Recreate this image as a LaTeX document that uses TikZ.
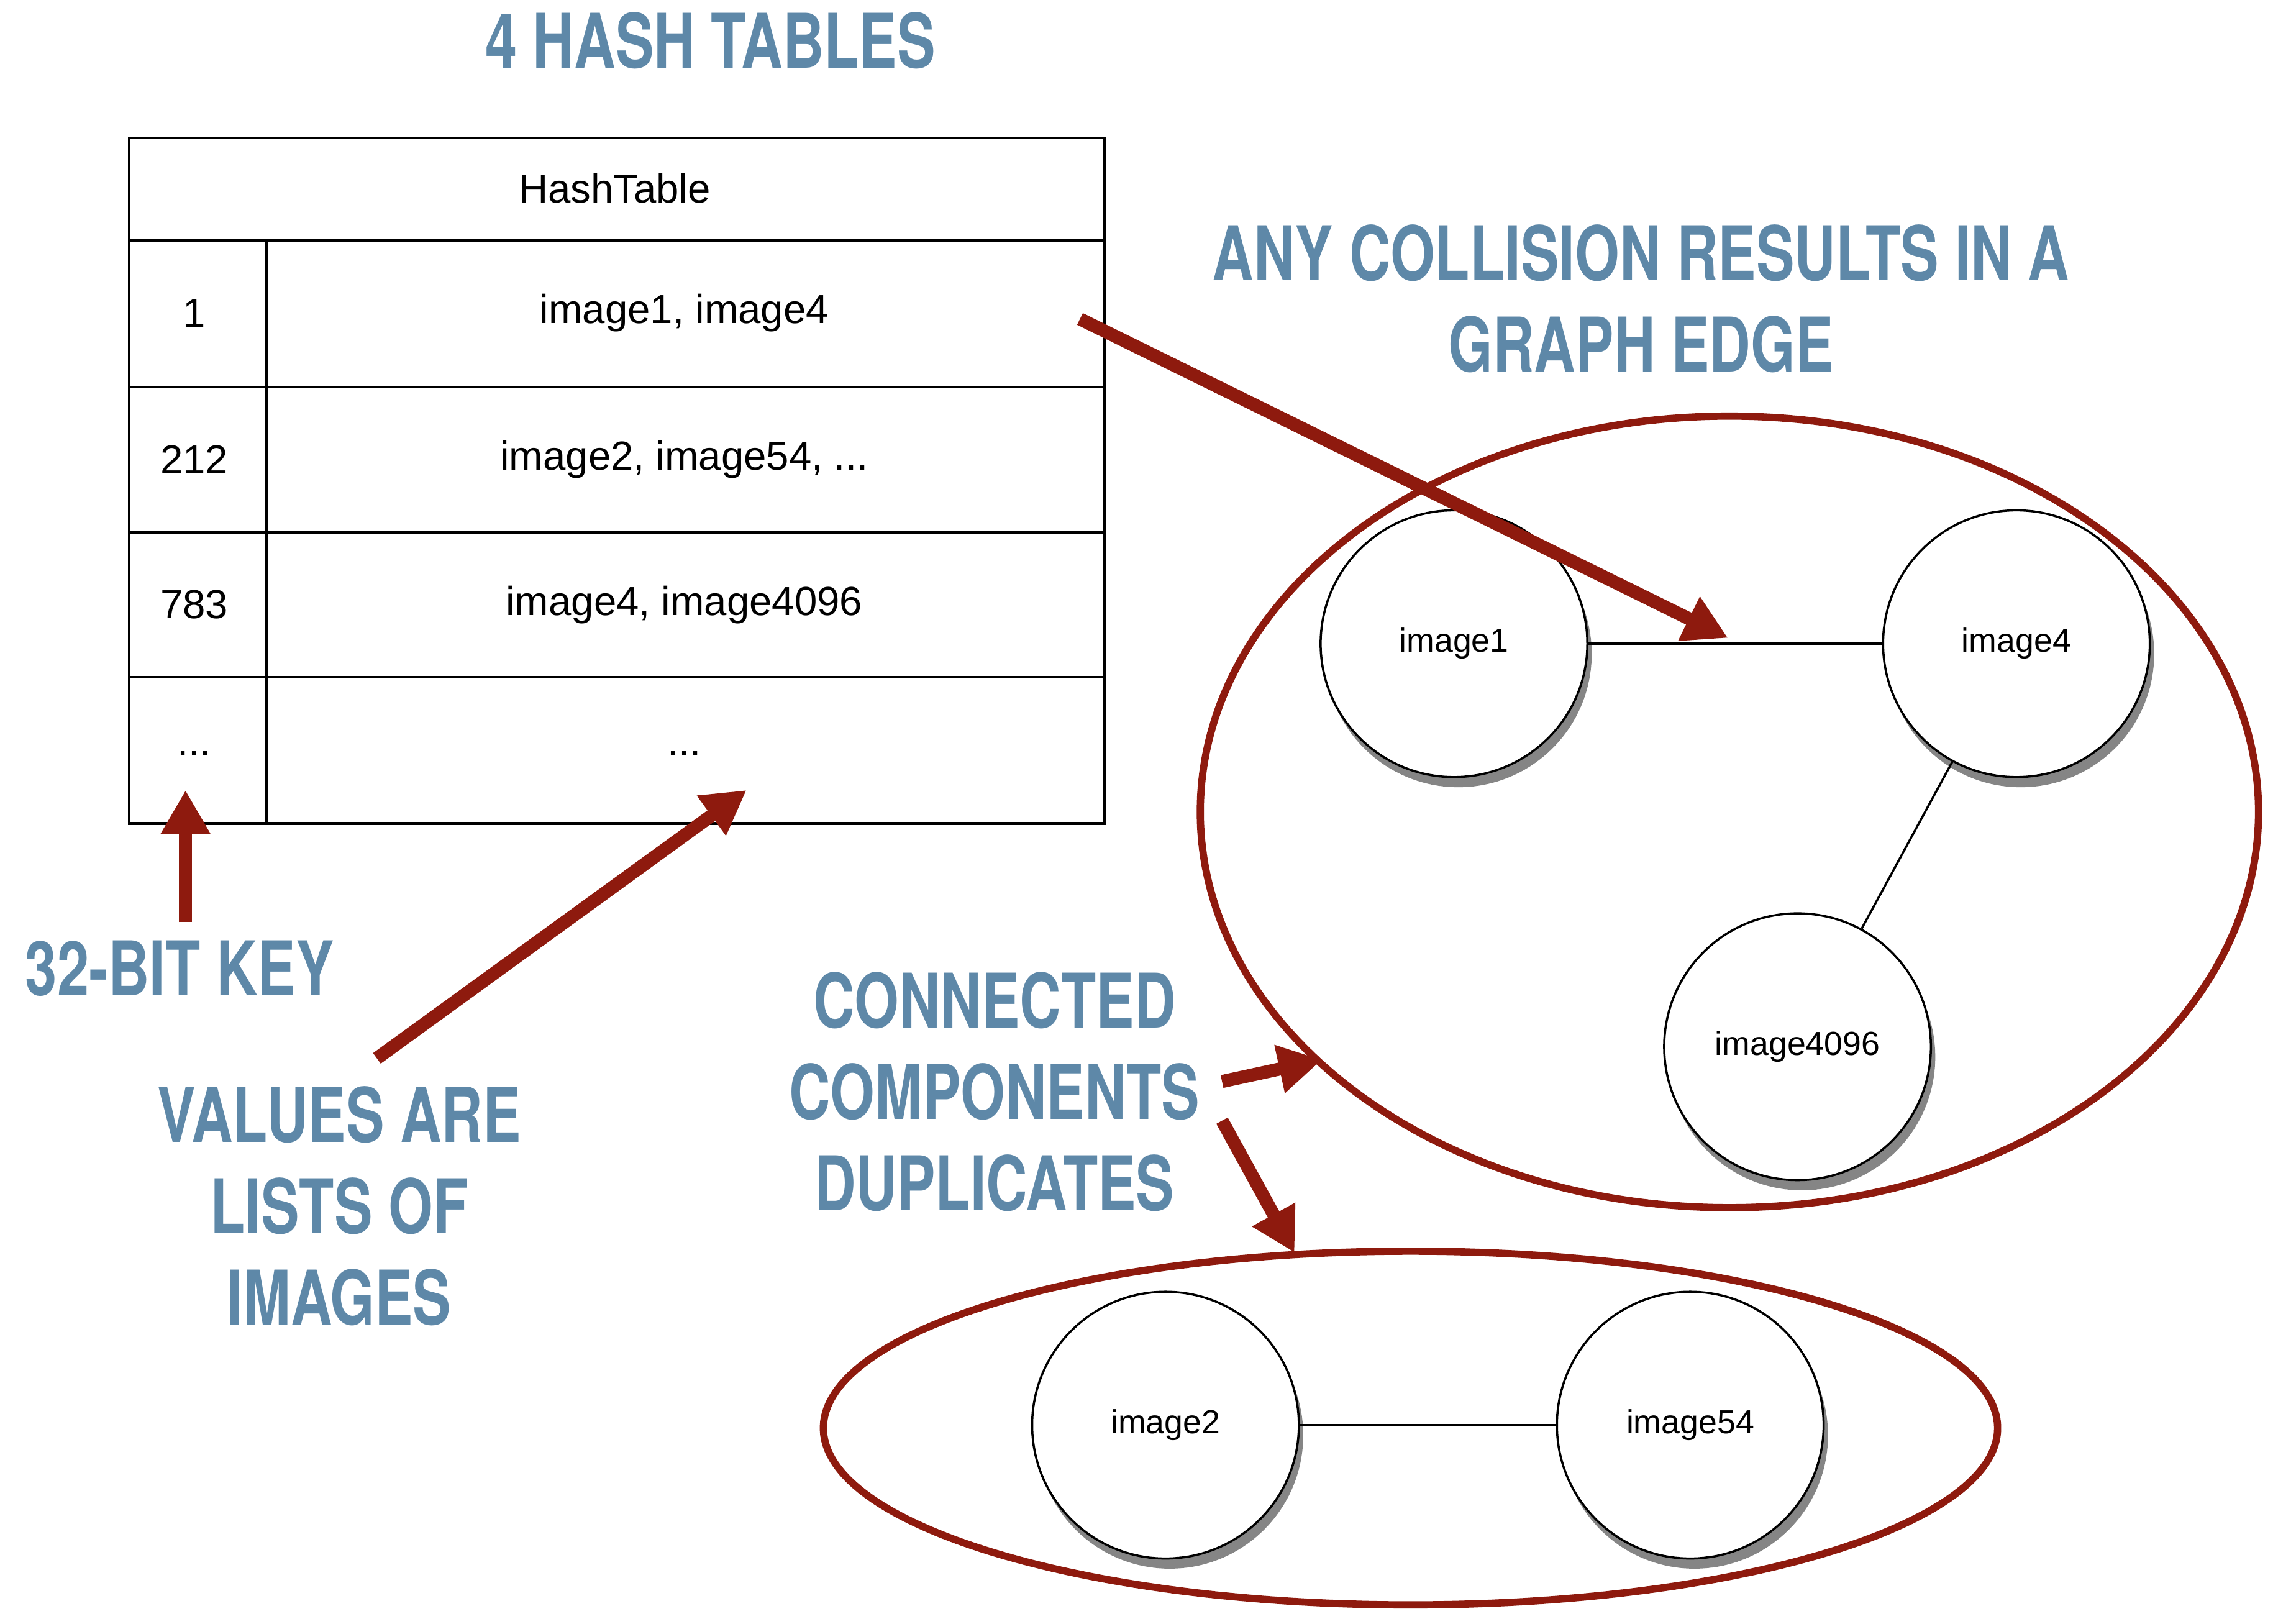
\documentclass[tikz,border=0pt]{standalone}
\usepackage{fontspec}
\setmainfont{Liberation Sans}
\newfontfamily\titlefont[FakeStretch=0.76]{TeX Gyre Heros Bold}
\usetikzlibrary{arrows.meta,shadows}
\definecolor{tblue}{HTML}{5E88A8}
\definecolor{dred}{HTML}{8E1A0E}
\begin{document}
\begin{tikzpicture}[x=1pt,y=-1pt,
  ttl/.style={text=tblue,font=\titlefont\fontsize{52}{63}\selectfont,align=center,inner sep=0},
  cell/.style={font=\fontsize{28}{32}\selectfont,inner sep=0},
  img/.style={circle,draw,line width=1.5pt,minimum size=184pt,fill=white,font=\fontsize{23}{26}\selectfont,drop shadow={shadow xshift=3pt,shadow yshift=-7pt,opacity=0.8,fill=black!60}},
  ell/.style={draw=dred,line width=5pt},
  arr/.style={draw=dred,line width=9pt,-{Triangle[length=30pt,width=32pt]}}]
\useasboundingbox (0,0) rectangle (1568,1120);
\node[ttl] (t1) at (490,28) {4 HASH TABLES};
% table
\draw[line width=1.8pt] (89,95) rectangle (762,568);
\foreach \y in {166,267,367,467} \draw[line width=1.8pt] (89,\y) -- (762,\y);
\draw[line width=1.8pt] (184,166) -- (184,568);
\node[cell] (h) at (424,130) {HashTable};
\node[cell] (k1) at (134,216) {1};
\node[cell] (v1) at (472,216) {image1, image4};
\node[cell] (k2) at (134,317) {212};
\node[cell] (v2) at (472,317) {image2, image54, ...};
\node[cell] (k3) at (134,417) {783};
\node[cell] (v3) at (472,417) {image4, image4096};
\node[cell] (k4) at (134,520) {...};
\node[cell] (v4) at (472,520) {...};
% upper graph
\node[ttl] (t2) at (1132,206) {ANY COLLISION RESULTS IN A\\GRAPH EDGE};
\draw[ell] (1193,560) ellipse [x radius=365, y radius=273];
\node[img] (i1) at (1003,444) {image1};
\node[img] (i4) at (1391,444) {image4};
\node[img] (i4096) at (1240,722) {image4096};
\draw[line width=1.5pt] (i1) -- (i4);
\draw[line width=1.5pt] (i4) -- (i4096);
% lower graph
\draw[ell] (973,985) ellipse [x radius=405, y radius=122];
\node[img] (i2) at (804,983) {image2};
\node[img] (i54) at (1166,983) {image54};
\draw[line width=1.5pt] (i2) -- (i54);
% labels
\node[ttl] (l1) at (124,668) {32-BIT KEY};
\node[ttl] (l2) at (234,832) {VALUES ARE\\LISTS OF\\IMAGES};
\node[ttl] (l3) at (686,753) {CONNECTED\\COMPONENTS\\DUPLICATES};
% arrows
\coordinate (a1s) at (745,220); \coordinate (a1e) at (1192,440);
\coordinate (a2s) at (128,636); \coordinate (a2e) at (128,545);
\coordinate (a3s) at (260,730); \coordinate (a3e) at (515,545);
\coordinate (a4s) at (843,746); \coordinate (a4e) at (912,731);
\coordinate (a5s) at (843,773); \coordinate (a5e) at (893,864);
\draw[arr] (a1s) -- (a1e);
\draw[arr] (a2s) -- (a2e);
\draw[arr] (a3s) -- (a3e);
\draw[arr] (a4s) -- (a4e);
\draw[arr] (a5s) -- (a5e);
\end{tikzpicture}
\end{document}
